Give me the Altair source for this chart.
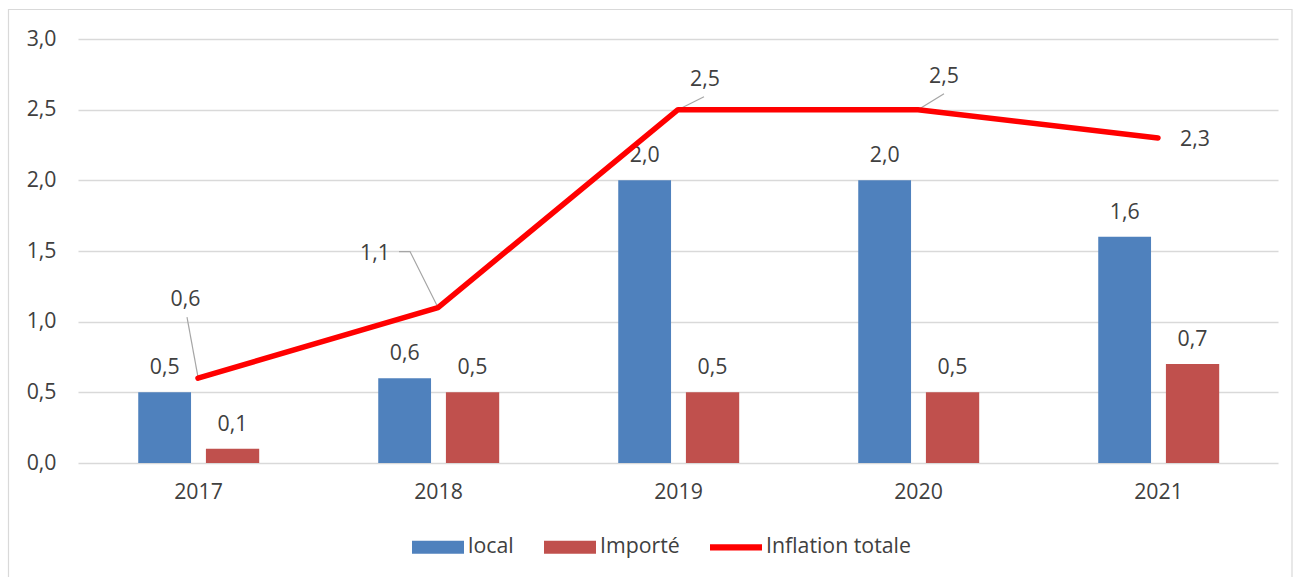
import altair as alt
import pandas as pd

# ---------------- data ----------------
years = [2017, 2018, 2019, 2020, 2021]
local = [0.5, 0.6, 2.0, 2.0, 1.6]
importe = [0.1, 0.5, 0.5, 0.5, 0.7]
inflation = [0.6, 1.1, 2.5, 2.5, 2.3]
series_names = ["local", "Importé", "Inflation totale"]
series_colors = ["#4f81bd", "#c0504d", "#ff0000"]
y_ticks = [0, 0.5, 1.0, 1.5, 2.0, 2.5, 3.0]

# ---------------- layout constants ----------------
W, H = 1200, 424
X_DOMAIN = [2016.5, 2021.5]
Y_DOMAIN = [0, 3]
PX_YEAR = W / (X_DOMAIN[1] - X_DOMAIN[0])
PX_UNIT = H / (Y_DOMAIN[1] - Y_DOMAIN[0])
BAR_SPAN = {"local": (-0.249, -0.029), "Importé": (0.033, 0.255)}
# callout label offsets (px) from each line point: (dx, dy of baseline)
CALLOUT_TEXT = [(-12.5, -72), (-63, -47.5), (27, -23.5), (26, -26.5), (37, 8)]
# leader lines (px) from each line point
CALLOUT_LINES = [
    [(0, -1), (-11, -61)],
    [(0, 0), (-28, -56), (-39, -56)],
    [(0, 0), (26, -13)],
    [(0, 0), (26, -16)],
    [],
]
FONT = "Open Sans"
FS = 21.3
TXT = "#404040"

# ---------------- tables ----------------
bar_rows = []
for name, vals in (("local", local), ("Importé", importe)):
    a, b = BAR_SPAN[name]
    for yr, v in zip(years, vals):
        bar_rows.append({"series": name, "year": yr, "y": v,
                         "x": yr + a, "x2": yr + b, "xc": yr + (a + b) / 2})
bars_df = pd.DataFrame(bar_rows)
line_df = pd.DataFrame({"x": years, "y": inflation})

ct_rows = []
for yr, v, (dx, dy) in zip(years, inflation, CALLOUT_TEXT):
    ct_rows.append({"x": yr + dx / PX_YEAR, "y": v - dy / PX_UNIT, "v": v})
ct_df = pd.DataFrame(ct_rows)

cl_rows = []
for i, (yr, v, pts) in enumerate(zip(years, inflation, CALLOUT_LINES)):
    for j, (dx, dy) in enumerate(pts):
        cl_rows.append({"id": i, "o": j, "x": yr + dx / PX_YEAR, "y": v - dy / PX_UNIT})
cl_df = pd.DataFrame(cl_rows)

leg_df = pd.DataFrame({"series": series_names, "x": [2017] * 3, "y": [0] * 3})

label_expr = "replace(format(datum.value, '.1f'), '.', ',')"

xscale = alt.Scale(domain=X_DOMAIN, nice=False, zero=False, padding=0)
yscale = alt.Scale(domain=Y_DOMAIN, nice=False, padding=0)

X = alt.X("x:Q", scale=xscale, title=None,
          axis=alt.Axis(values=years, format="d", grid=False, ticks=False, domain=False,
                        labelPadding=18, labelFont=FONT, labelFontSize=FS, labelColor=TXT))
Y = alt.Y("y:Q", scale=yscale, title=None,
          axis=alt.Axis(values=y_ticks, labelExpr=label_expr, grid=True, gridColor="#d9d9d9",
                        gridWidth=1.3, ticks=False, domain=False, labelPadding=22,
                        labelFont=FONT, labelFontSize=FS, labelColor=TXT))

border = alt.Chart(alt.Data(values=[{}])).mark_rect(
    fill="white", fillOpacity=0, stroke="#d9d9d9", strokeWidth=1.2
).encode(x=alt.value(-69.5), x2=alt.value(1214), y=alt.value(-29.5), y2=alt.value(620))

bars = alt.Chart(bars_df).mark_bar().encode(
    x=X, x2="x2:Q", y=Y, y2=alt.Y2(datum=0),
    fill=alt.Fill("series:N", scale=alt.Scale(domain=series_names[:2], range=series_colors[:2]),
                  legend=None),
)

bar_labels = alt.Chart(bars_df).transform_calculate(
    lab="replace(format(datum.y, '.1f'), '.', ',')"
).mark_text(font=FONT, fontSize=FS, color=TXT, baseline="alphabetic", align="center", dy=-18).encode(
    x=alt.X("xc:Q", scale=xscale), y=alt.Y("y:Q", scale=yscale), text="lab:N"
)

leader = alt.Chart(cl_df).mark_line(color="#a6a6a6", strokeWidth=1.2).encode(
    x=alt.X("x:Q", scale=xscale), y=alt.Y("y:Q", scale=yscale), detail="id:N", order="o:Q"
)

line = alt.Chart(line_df).mark_line(color="#ff0000", strokeWidth=5.5, strokeCap="round",
                                    strokeJoin="round").encode(
    x=alt.X("x:Q", scale=xscale), y=alt.Y("y:Q", scale=yscale)
)

line_labels = alt.Chart(ct_df).transform_calculate(
    lab="replace(format(datum.v, '.1f'), '.', ',')"
).mark_text(font=FONT, fontSize=FS, color=TXT, baseline="alphabetic", align="center").encode(
    x=alt.X("x:Q", scale=xscale), y=alt.Y("y:Q", scale=yscale), text="lab:N"
)

rect_path = "M-1,-0.25H1V0.25H-1Z"
line_path = "M-1,-0.12H1V0.12H-1Z"
leg_opts = dict(title=None, orient="none", direction="horizontal",
                legendX=334, legendY=482, symbolSize=2704,
                symbolOpacity=1, symbolStrokeWidth=0,
                labelFont=FONT, labelFontSize=FS, labelColor=TXT,
                labelOffset=4, columnPadding=30)
legend = alt.Chart(leg_df).mark_point(filled=True, opacity=0).encode(
    x=alt.X("x:Q", scale=xscale), y=alt.Y("y:Q", scale=yscale),
    color=alt.Color("series:N", scale=alt.Scale(domain=series_names, range=series_colors),
                    legend=alt.Legend(**leg_opts)),
    shape=alt.Shape("series:N", scale=alt.Scale(domain=series_names,
                                                range=[rect_path, rect_path, line_path]),
                    legend=alt.Legend(**leg_opts)),
)

chart = alt.layer(border, bars, bar_labels, leader, line, line_labels, legend).properties(
    width=W, height=H,
    autosize=alt.AutoSizeParams(type="none"),
    padding={"left": 78, "top": 39, "right": 15, "bottom": 114},
    background="white",
).configure_view(stroke=None)

chart.save("out.html", embed_options={"renderer": "svg", "actions": False})
